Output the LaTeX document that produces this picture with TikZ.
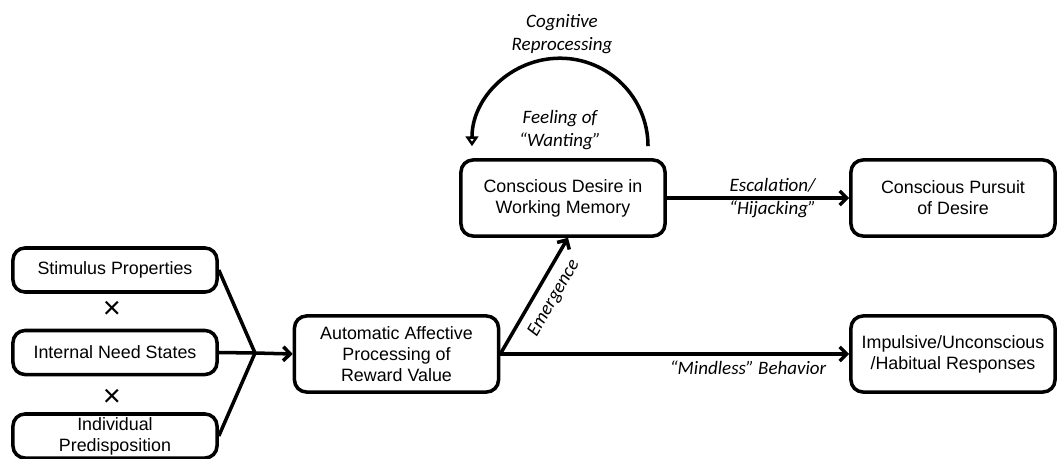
\documentclass[tikz,border=0pt]{standalone}
\usepackage{fontspec}
\setmainfont{Liberation Sans}
\newfontfamily\labelfont{Carlito}
\usetikzlibrary{arrows.meta}

\tikzset{
    box/.style={draw, line width=2.5pt, rounded corners=0.3cm, minimum width=5.1cm,
        align=center, inner sep=2pt, font=\fontsize{12.7}{15}\selectfont},
    smallbox/.style={box, minimum height=1.1cm},
    bigbox/.style={box, minimum height=1.9cm},
    flow/.style={line width=2.5pt, -{Straight Barb[length=5pt, width=10pt]}},
    link/.style={line width=2.5pt},
    lbl/.style={font=\labelfont\itshape\fontsize{13.5}{16.3}\selectfont, align=center},
    times/.style={font=\fontsize{22}{22}\selectfont, inner sep=0pt}
}

\begin{document}
\begin{tikzpicture}[x=0.025cm, y=-0.025cm]

    \useasboundingbox (0,0) rectangle (1058,459);

    % Inputs on the left
    \node[smallbox] (stimulus) at (115,270) {Stimulus Properties};
    \node[times] (times1) at (112,310) {×};
    \node[smallbox] (need) at (115,352.5) {Internal Need States};
    \node[times] (times2) at (112,398) {×};
    \node[smallbox] (predisp) at (115,436) {Individual\\Predisposition};
    \coordinate (merge) at (255,353);

    \draw[link] (stimulus.east) -- (merge);
    \draw[link] (need.east) -- (merge);
    \draw[link] (predisp.east) -- (merge);

    % Processing and desire
    \node[bigbox] (auto) at (396.5,354) {Automatic Affective\\Processing of\\Reward Value};
    \node[bigbox] (desire) at (563,198) {Conscious Desire in\\Working Memory};
    \draw[flow] (merge) -- (auto.west);
    \draw[flow] (auto.east) -- node[lbl, sloped, below=3pt, pos=0.56] {Emergence} ([xshift=0.125cm]desire.south);

    % Loop above the desire box
    \coordinate (loopstart) at ([xshift=2.125cm, yshift=0.3cm]desire.north);
    \draw[line width=2.5pt, -{Triangle[open, length=7pt, width=9pt]}]
        (loopstart) arc[start angle=0, end angle=180, radius=2.2cm];
    \node[lbl] (cognitive) at (562,34) {Cognitive\\Reprocessing};
    \node[lbl] (feeling) at (560,130) {Feeling of\\“Wanting”};

    % Outcomes on the right
    \node[bigbox] (pursuit) at (953,198) {Conscious Pursuit\\of Desire};
    \node[bigbox] (impulse) at (953,354) {Impulsive/Unconscious\\/Habitual Responses};
    \draw[flow] (desire.east) -- node[lbl, pos=0.58] {Escalation/\\“Hijacking”} (pursuit.west);
    \draw[flow] (auto.east) -- node[lbl, below, pos=0.71] {“Mindless” Behavior} (impulse.west);

\end{tikzpicture}
\end{document}
